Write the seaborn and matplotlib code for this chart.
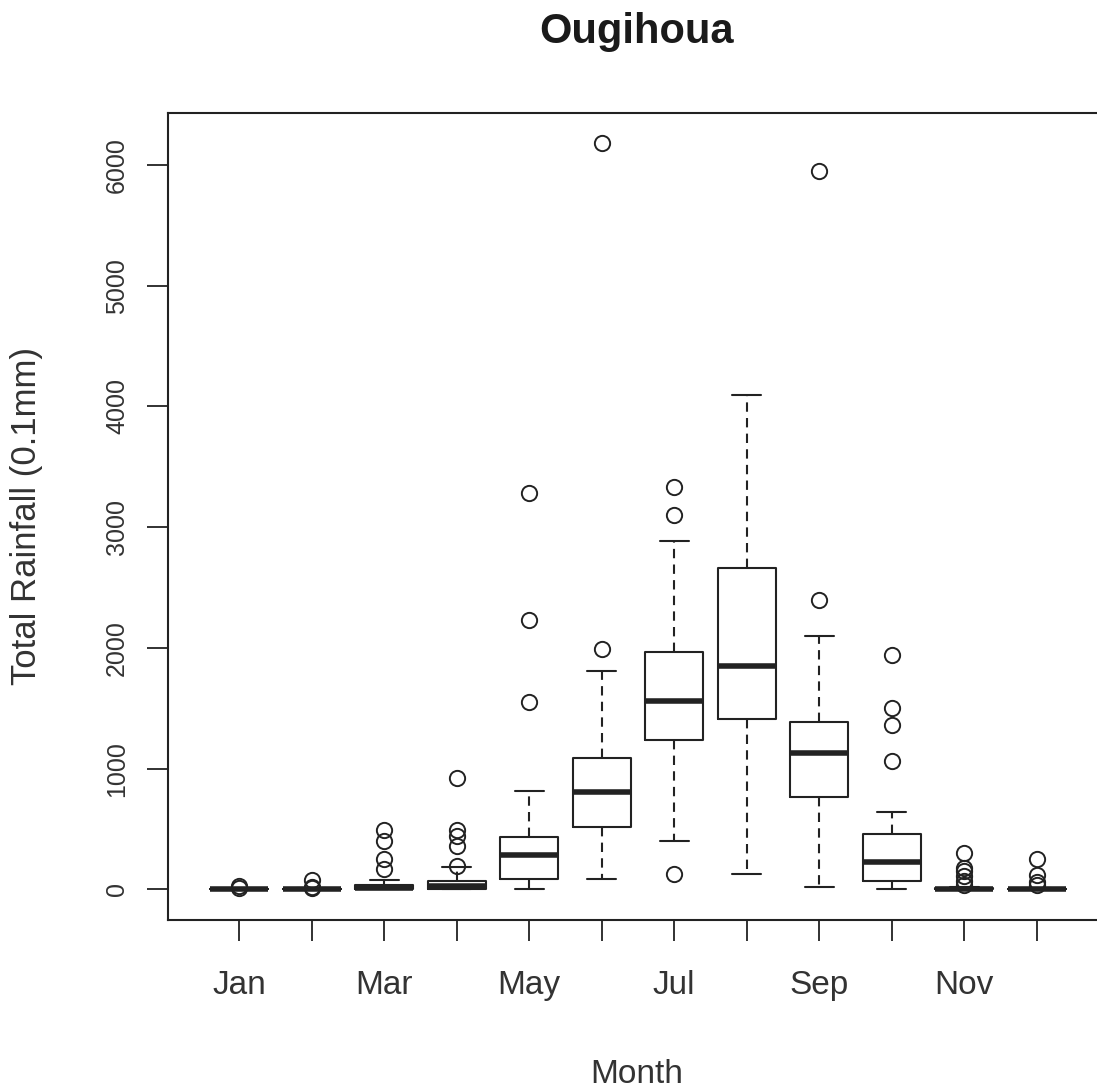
import matplotlib
matplotlib.use("Agg")
import matplotlib.pyplot as plt
import seaborn as sns

# ---- data (units: 0.1 mm) ----
months = ["Jan", "Feb", "Mar", "Apr", "May", "Jun",
          "Jul", "Aug", "Sep", "Oct", "Nov", "Dec"]
q1 = [0, 0, 0, 0, 86, 519, 1238, 1409, 764, 65, 0, 0]
medians = [0, 0, 10, 25, 285, 803, 1557, 1853, 1133, 230, 0, 0]
q3 = [0, 5, 40, 70, 432, 1090, 1970, 2663, 1388, 455, 10, 5]
whisker_low = [0, 0, 0, 0, 0, 86, 399, 128, 22, 0, 0, 0]
whisker_high = [0, 10, 75, 182, 814, 1812, 2889, 4097, 2100, 637, 20, 10]
outliers = [
    [25, 10],
    [80, 20, 10],
    [490, 400, 255, 165],
    [925, 490, 440, 360, 195],
    [3283, 2227, 1554],
    [6183, 1990],
    [3329, 3100, 128],
    [],
    [5954, 2397],
    [1939, 1504, 1358, 1061],
    [300, 180, 150, 110, 70, 40],
    [255, 115, 60, 40],
]
yticks = [0, 1000, 2000, 3000, 4000, 5000, 6000]

sns.set_theme(style="white")
plt.rcParams["font.family"] = ["Liberation Sans", "DejaVu Sans"]

W, H = 1097, 1088
fig = plt.figure(figsize=(W / 100, H / 100), dpi=100)
left, right, top, bottom = 168, 1107.6, 113, 920
ax = fig.add_axes([left / W, 1 - bottom / H, (right - left) / W, (bottom - top) / H])

line_c = "#222222"
text_c = "#333333"

stats = []
for i, m in enumerate(months):
    stats.append(dict(label=m, q1=q1[i], med=medians[i], q3=q3[i],
                      whislo=whisker_low[i], whishi=whisker_high[i],
                      fliers=outliers[i]))

positions = list(range(1, len(months) + 1))
ax.bxp(stats, positions=positions, widths=0.8, capwidths=0.4,
       showfliers=True,
       boxprops=dict(color=line_c, linewidth=1.5),
       whiskerprops=dict(color=line_c, linewidth=1.5, linestyle=(0, (4.5, 3))),
       capprops=dict(color=line_c, linewidth=1.5),
       medianprops=dict(color=line_c, linewidth=4, solid_capstyle="butt"),
       flierprops=dict(marker="o", markersize=11, markerfacecolor="none",
                       markeredgecolor=line_c, markeredgewidth=1.4,
                       linestyle="none"))

ax.set_xlim(0.02, 12.98)
ax.set_ylim(-254, 6431)

ax.set_xticks(positions)
ax.set_xticklabels([m if i % 2 == 0 else "" for i, m in enumerate(months)],
                   fontsize=24, color=text_c)
ax.set_yticks(yticks)
ax.set_yticklabels([str(v) for v in yticks], fontsize=18, color=text_c,
                   rotation=90, va="center")

ax.tick_params(axis="x", which="both", direction="out", length=15, width=1.3,
               color=line_c, pad=21, bottom=True)
ax.tick_params(axis="y", which="both", direction="out", length=15, width=1.3,
               color=line_c, pad=13, left=True)

for s in ["left", "bottom", "top", "right"]:
    ax.spines[s].set_visible(True)
    ax.spines[s].set_color(line_c)
    ax.spines[s].set_linewidth(1.5)

ax.grid(False)
ax.set_facecolor("white")
ax.set_xlabel("")
ax.set_ylabel("")

fig.text(637 / W, 1 - 43 / H, "Ougihoua", ha="center", va="baseline",
         fontsize=30, fontweight="bold", color="#1a1a1a")
fig.text(637 / W, 1 - 1083 / H, "Month", ha="center", va="baseline",
         fontsize=24, color=text_c)
fig.text(27 / W, 1 - 516 / H, "Total Rainfall (0.1mm)", ha="center", va="center",
         rotation=90, fontsize=25, color=text_c)

fig.savefig("out.png", dpi=100, facecolor="white")
